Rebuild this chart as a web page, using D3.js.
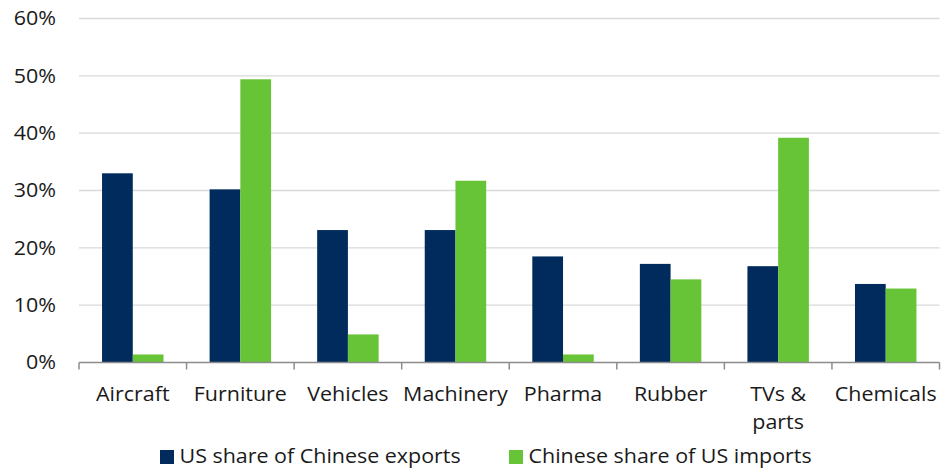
<!DOCTYPE html>
<html>
<head>
<meta charset="utf-8">
<script src="https://cdn.jsdelivr.net/npm/d3@7"></script>
<style>
  html, body { margin: 0; padding: 0; background: #fff; }
  svg text { font-family: "Open Sans", "Noto Sans", sans-serif; fill: #1a1a1a; }
</style>
</head>
<body>
<svg id="chart" width="943" height="468"></svg>
<script>
// Trade exposure by product category
const categories = ["Aircraft", "Furniture", "Vehicles", "Machinery", "Pharma", "Rubber", "TVs & parts", "Chemicals"];
const categoryLines = [["Aircraft"], ["Furniture"], ["Vehicles"], ["Machinery"], ["Pharma"], ["Rubber"], ["TVs &", "parts"], ["Chemicals"]];
const usShareOfChineseExports = [33.0, 30.2, 23.1, 23.1, 18.5, 17.2, 16.8, 13.7];
const chineseShareOfUsImports = [1.4, 49.4, 4.9, 31.7, 1.4, 14.5, 39.2, 12.9];
const seriesNames = ["US share of Chinese exports", "Chinese share of US imports"];
const seriesColors = ["#002B5C", "#66C436"];
const yTicks = [0, 10, 20, 30, 40, 50, 60];

const svg = d3.select("#chart");
const margin = { left: 79, right: 3.5, top: 18.5, bottom: 105.5 };
const W = 943, H = 468;
const FONT = 19.5;
const STRETCH = 1.1; // slightly wide lettering

const x = d3.scaleBand()
  .domain(categories)
  .range([margin.left, W - margin.right])
  .paddingInner(0)
  .paddingOuter(0);

const y = d3.scaleLinear()
  .domain([0, 60])
  .range([H - margin.bottom, margin.top]);

const sub = d3.scaleBand()
  .domain(seriesNames)
  .range([0, x.bandwidth()])
  .paddingInner(0)
  .paddingOuter(0.75);

// Gridlines
svg.append("g")
  .selectAll("line")
  .data(yTicks.filter(d => d > 0))
  .join("line")
  .attr("x1", margin.left)
  .attr("x2", W - margin.right)
  .attr("y1", d => y(d))
  .attr("y2", d => y(d))
  .attr("stroke", "#d9d9d9")
  .attr("stroke-width", 1.3);

// Y axis labels
svg.append("g")
  .selectAll("g")
  .data(yTicks)
  .join("g")
  .attr("transform", d => `translate(56,${y(d)}) scale(${STRETCH},1)`)
  .append("text")
  .attr("text-anchor", "end")
  .attr("dy", "0.35em")
  .attr("font-size", FONT)
  .text(d => d + "%");

// Bars
const rows = categories.map((c, i) => ({
  category: c,
  values: [usShareOfChineseExports[i], chineseShareOfUsImports[i]]
}));

const groups = svg.append("g")
  .selectAll("g")
  .data(rows)
  .join("g")
  .attr("transform", d => `translate(${x(d.category)},0)`);

groups.selectAll("rect")
  .data(d => d.values.map((v, j) => ({ name: seriesNames[j], value: v, color: seriesColors[j] })))
  .join("rect")
  .attr("x", d => sub(d.name))
  .attr("width", sub.bandwidth())
  .attr("y", d => y(d.value))
  .attr("height", d => y(0) - y(d.value))
  .attr("fill", d => d.color);

// X axis with category ticks at band edges
const xAxisG = svg.append("g")
  .attr("transform", `translate(0,${y(0)})`);
xAxisG.append("line")
  .attr("x1", margin.left)
  .attr("x2", W - margin.right)
  .attr("stroke", "#8c8c8c")
  .attr("stroke-width", 1.5);
const edges = categories.map(c => x(c)).concat([x(categories[categories.length - 1]) + x.bandwidth()]);
xAxisG.selectAll("line.tick")
  .data(edges)
  .join("line")
  .attr("class", "tick")
  .attr("x1", d => d)
  .attr("x2", d => d)
  .attr("y1", 0)
  .attr("y2", 7)
  .attr("stroke", "#8c8c8c")
  .attr("stroke-width", 1.5);

// Category labels
const labels = svg.append("g")
  .selectAll("g")
  .data(categories.map((c, i) => ({ c, lines: categoryLines[i] })))
  .join("g")
  .attr("transform", d => `translate(${x(d.c) + x.bandwidth() / 2},${y(0) + 38.5}) scale(${STRETCH},1)`)
  .append("text")
  .attr("text-anchor", "middle")
  .attr("font-size", FONT);
labels.selectAll("tspan")
  .data(d => d.lines)
  .join("tspan")
  .attr("x", 0)
  .attr("dy", (d, i) => i === 0 ? 0 : 28)
  .text(d => d);

// Legend
const legendX = [160, 509];
const legend = svg.append("g")
  .selectAll("g")
  .data(seriesNames)
  .join("g")
  .attr("transform", (d, i) => `translate(${legendX[i]},450)`);
legend.append("rect")
  .attr("width", 14)
  .attr("height", 14)
  .attr("fill", (d, i) => seriesColors[i]);
legend.append("g")
  .attr("transform", `translate(19.5,12.8) scale(${STRETCH},1)`)
  .append("text")
  .attr("font-size", FONT)
  .text(d => d);
</script>
</body>
</html>
